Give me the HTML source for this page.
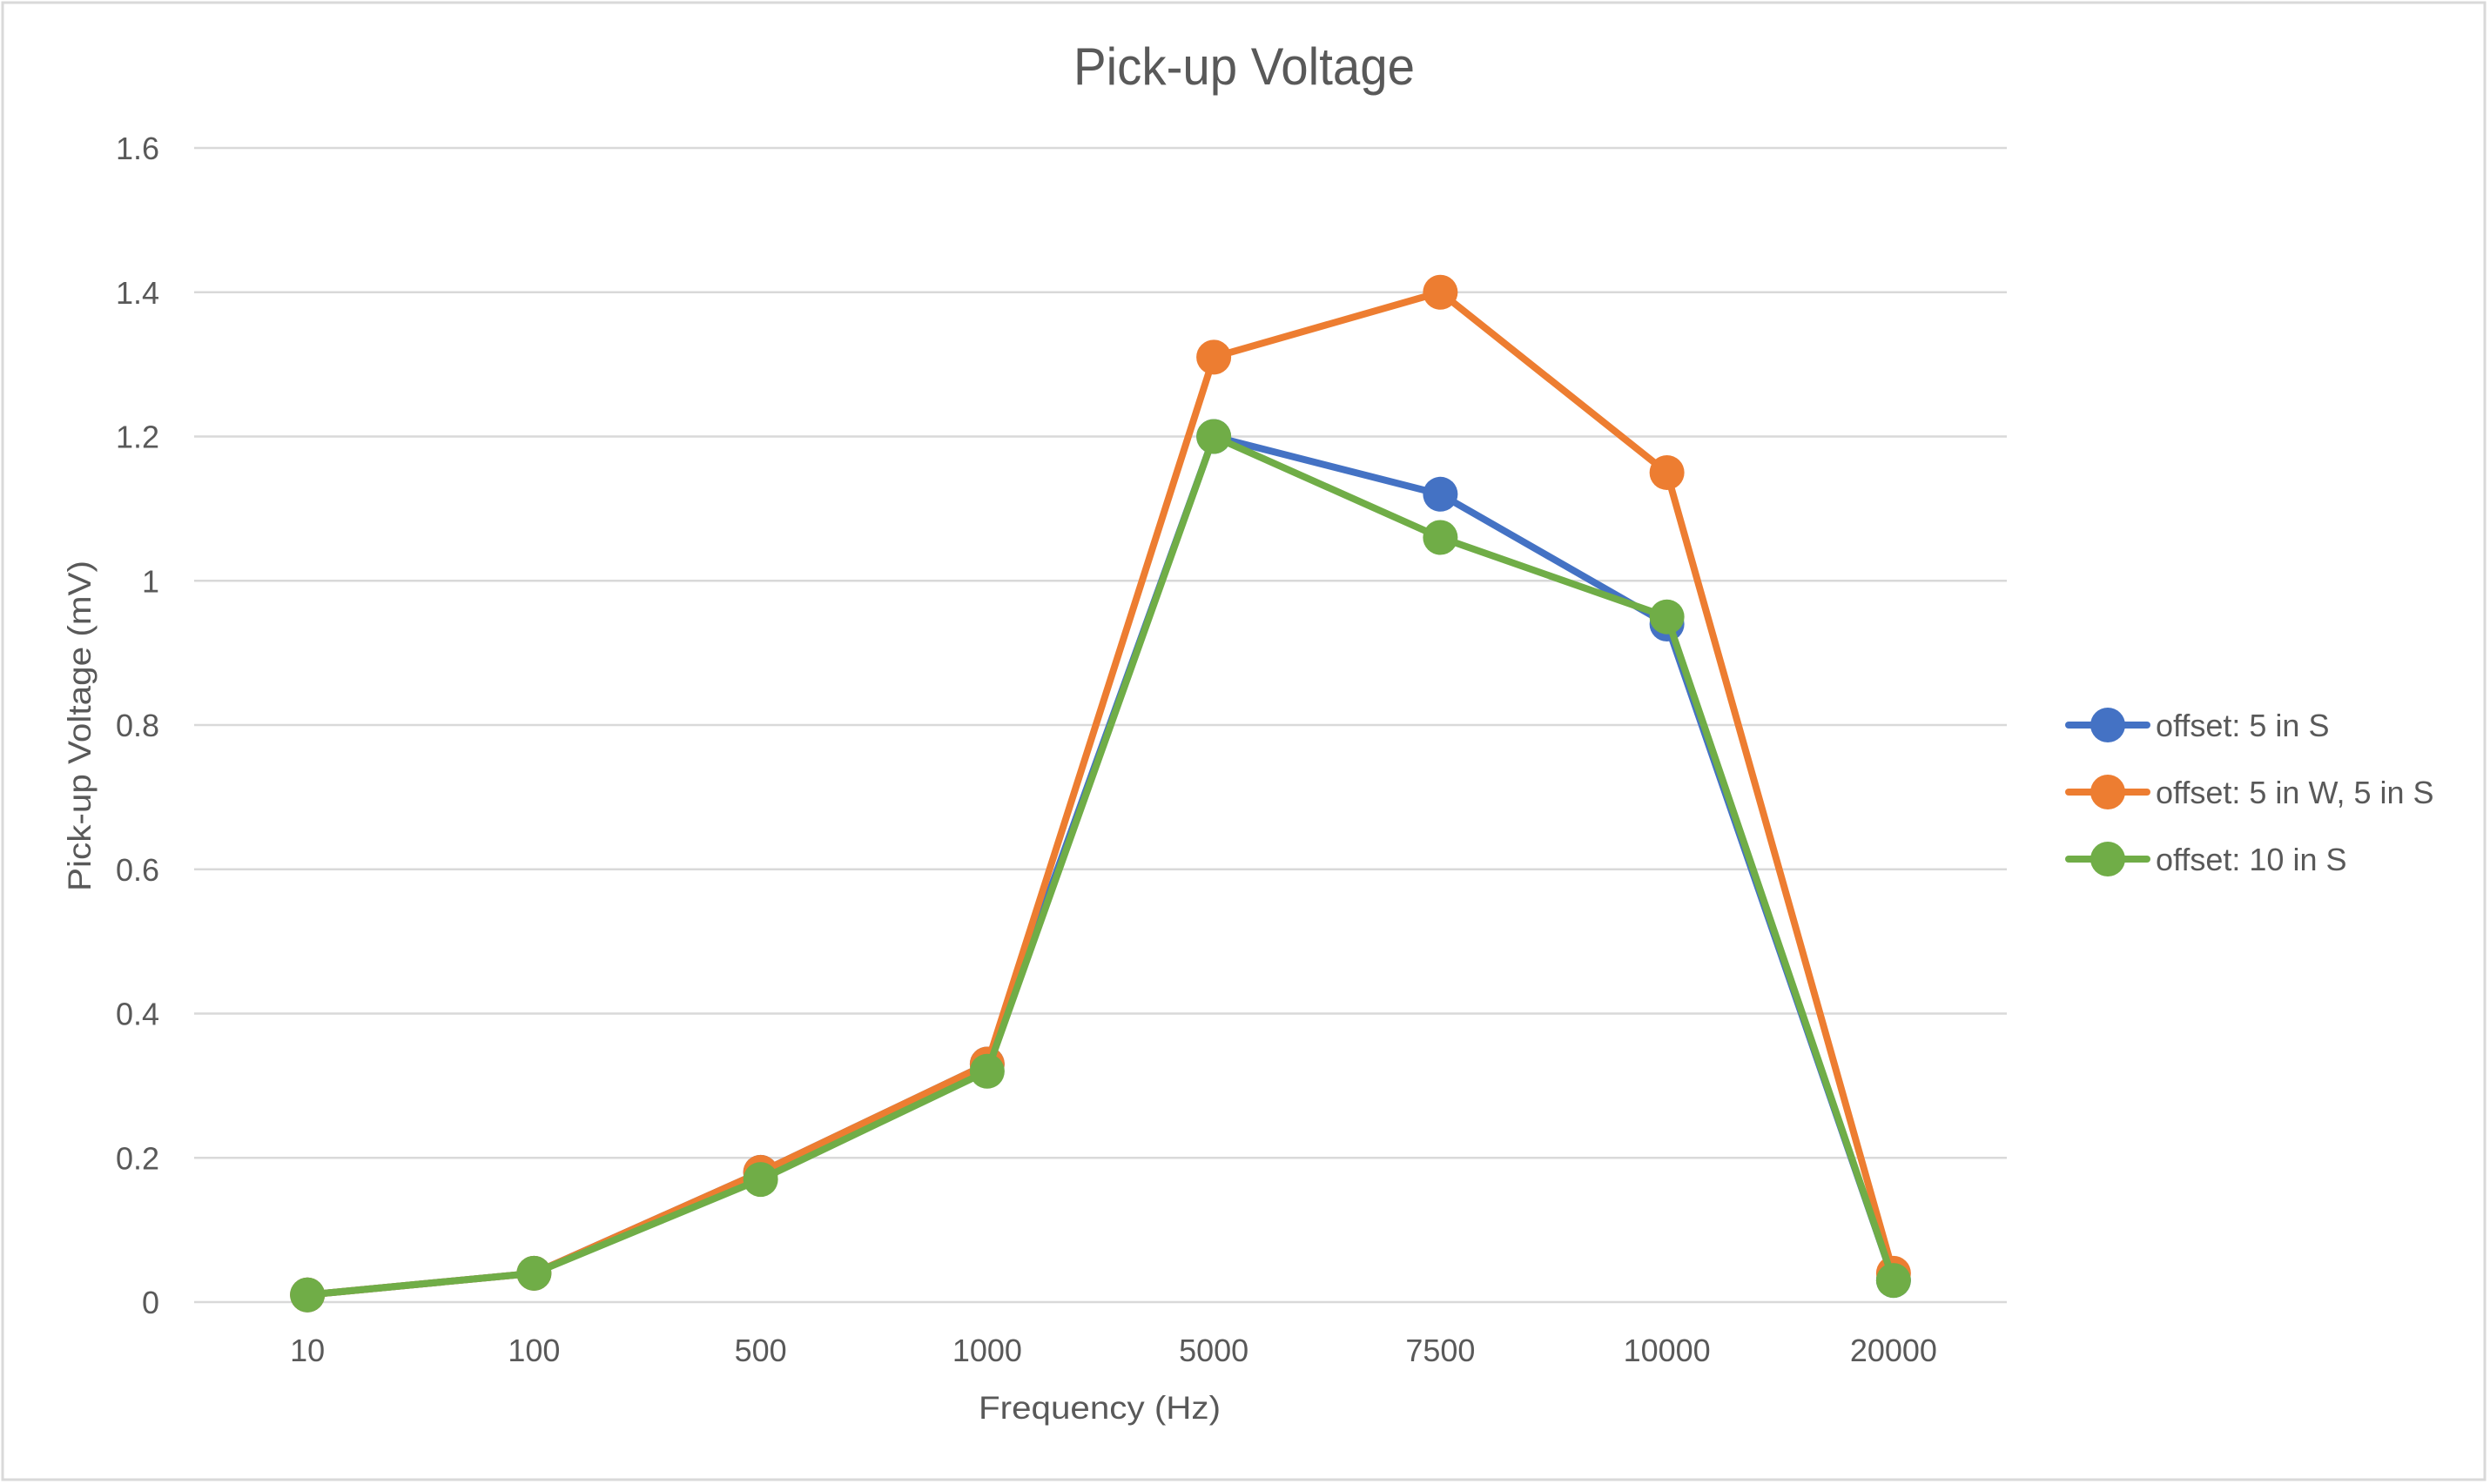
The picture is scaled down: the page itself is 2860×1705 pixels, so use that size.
<!DOCTYPE html>
<html><head><meta charset="utf-8"><style>
html,body{margin:0;padding:0;background:#fff;}
svg{display:block;font-family:"Liberation Sans",sans-serif;}
</style></head><body>
<svg id="chart" width="2860" height="1705" viewBox="0 0 2860 1705">
<rect x="3" y="3" width="2851" height="1697" fill="#fff" stroke="#d9d9d9" stroke-width="3"/>
<text x="1429" y="97" text-anchor="middle" font-size="60" fill="#595959" textLength="392" lengthAdjust="spacingAndGlyphs">Pick-up Voltage</text>
<g id="grid"></g>
<g id="series"></g>
<text transform="translate(104,834) rotate(-90)" text-anchor="middle" font-size="37" fill="#595959" textLength="380" lengthAdjust="spacingAndGlyphs">Pick-up Voltage (mV)</text>
<text x="1263" y="1630" text-anchor="middle" font-size="37" fill="#595959" textLength="278" lengthAdjust="spacingAndGlyphs">Frequency (Hz)</text>
<g id="legend"></g>
</svg>
<script>
const categories = ["10","100","500","1000","5000","7500","10000","20000"];
const yTicks = [0,0.2,0.4,0.6,0.8,1,1.2,1.4,1.6];
const seriesNames = ["offset: 5 in S","offset: 5 in W, 5 in S","offset: 10 in S"];
const blueValues = [0.01,0.04,0.18,0.33,1.2,1.12,0.94,0.03];
const orangeValues = [0.01,0.04,0.18,0.33,1.31,1.4,1.15,0.04];
const greenValues = [0.01,0.04,0.17,0.32,1.2,1.06,0.95,0.03];

const NS="http://www.w3.org/2000/svg";
const plotL=223, plotR=2305, y0=1496, yTop=170, yMax=1.6;
const step=(plotR-plotL)/categories.length;
function xPos(i){return plotL+step*(i+0.5);}
function yPos(v){return y0-(v/yMax)*(y0-yTop);}
function mk(tag,attrs,parent){const e=document.createElementNS(NS,tag);for(const k in attrs)e.setAttribute(k,attrs[k]);parent.appendChild(e);return e;}

const grid=document.getElementById('grid');
yTicks.forEach(t=>{
  const l=mk('line',{x1:plotL,x2:plotR,y1:yPos(t),y2:yPos(t),stroke:'#d9d9d9','stroke-width':2.5},grid);
  
  
  const tx=mk('text',{x:183,y:yPos(t)+13,'text-anchor':'end','font-size':36,fill:'#595959'},grid);
  tx.textContent=String(t);
  
  
});
categories.forEach((c,i)=>{
  const tx=mk('text',{x:xPos(i),y:1564,'text-anchor':'middle','font-size':36,fill:'#595959'},grid);
  tx.textContent=c;
  
  
});

const colors=['#4472c4','#ed7d31','#70ad47'];
const allSeries=[blueValues,orangeValues,greenValues];
const sg=document.getElementById('series');
allSeries.forEach((vals,s)=>{
  const g=mk('g',{},sg);
  
  
  const pts=vals.map((v,i)=>xPos(i)+','+yPos(v)).join(' ');
  const pl=mk('polyline',{points:pts,fill:'none',stroke:colors[s],'stroke-width':8,'stroke-linejoin':'round','stroke-linecap':'round'},g);
  
  
  vals.forEach((v,i)=>{
    const c=mk('circle',{cx:xPos(i),cy:yPos(v),r:20,fill:colors[s]},g);
    
    
  });
});

const lg=document.getElementById('legend');
const legY=[833,910,987];
seriesNames.forEach((n,s)=>{
  const g=mk('g',{},lg);
  
  
  mk('line',{x1:2376,x2:2466,y1:legY[s],y2:legY[s],stroke:colors[s],'stroke-width':8,'stroke-linecap':'round'},g);
  mk('circle',{cx:2421,cy:legY[s],r:20,fill:colors[s]},g);
  const t=mk('text',{x:2476,y:legY[s]+13,'font-size':36,fill:'#595959'},g);
  t.textContent=n;
});
</script>
</body></html>
